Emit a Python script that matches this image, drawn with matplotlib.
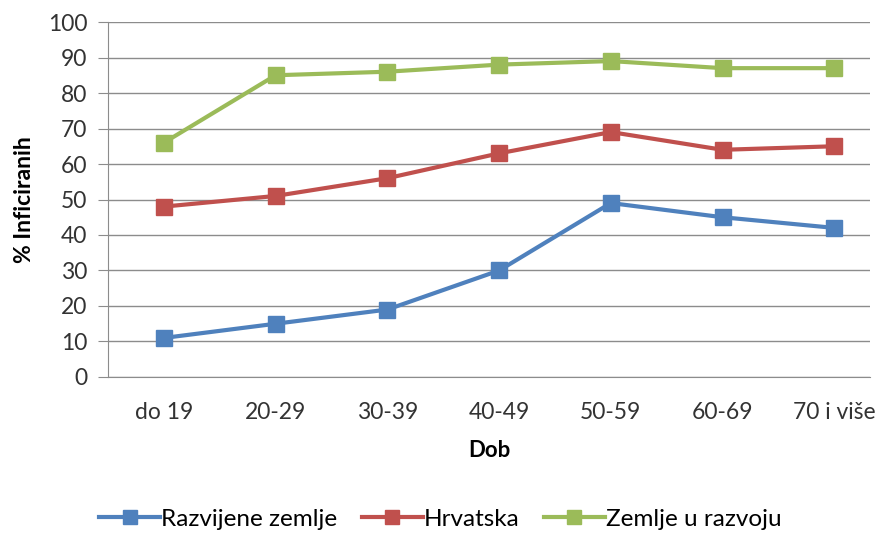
import numpy as np
import matplotlib.pyplot as plt

plt.rcParams['font.family'] = ['Lato', 'DejaVu Sans']

categories = ['do 19', '20-29', '30-39', '40-49', '50-59', '60-69', '70 i više']
razvijene = [11, 15, 19, 30, 49, 45, 42]
hrvatska = [48, 51, 56, 63, 69, 64, 65]
u_razvoju = [66, 85, 86, 88, 89, 87, 87]

x = np.arange(len(categories))

fig = plt.figure(figsize=(8.81, 5.33), dpi=100)
ax = fig.add_axes([0.1226, 0.2927, 0.865, 0.666])

for vals, col, lab in [(razvijene, '#4F81BD', 'Razvijene zemlje'),
                       (hrvatska, '#C0504D', 'Hrvatska'),
                       (u_razvoju, '#9BBB59', 'Zemlje u razvoju')]:
    ax.plot(x, vals, color=col, lw=3, marker='s', ms=12, label=lab)

ax.set_ylim(0, 100)
ax.set_yticks(np.arange(0, 101, 10))
ax.set_xlim(-0.5, 6.32)
ax.set_xticks(x)
ax.set_xticklabels(categories)
ax.grid(axis='y', color='#8c8c8c', lw=1)
ax.set_axisbelow(True)
for s in ['top', 'right']:
    ax.spines[s].set_visible(False)
ax.spines['left'].set_color('#8c8c8c')
ax.spines['bottom'].set_color('#8c8c8c')
ax.tick_params(axis='y', length=7, color='#8c8c8c', labelsize=16.5,
               labelcolor='#333333', pad=8)
ax.tick_params(axis='x', length=0, labelsize=16.5, labelcolor='#333333', pad=18)

ax.set_xlabel('Dob', fontsize=16, fontweight='bold', labelpad=12)
ax.set_ylabel('% Inficiranih', fontsize=16.5, fontweight='bold', labelpad=9)

fig.legend(loc='lower center', bbox_to_anchor=(0.5, -0.035), ncol=3, frameon=False,
           fontsize=17.5, handlelength=2.5, markerscale=0.85, columnspacing=1.0,
           handletextpad=0.05)

plt.savefig('out.png', dpi=100)
